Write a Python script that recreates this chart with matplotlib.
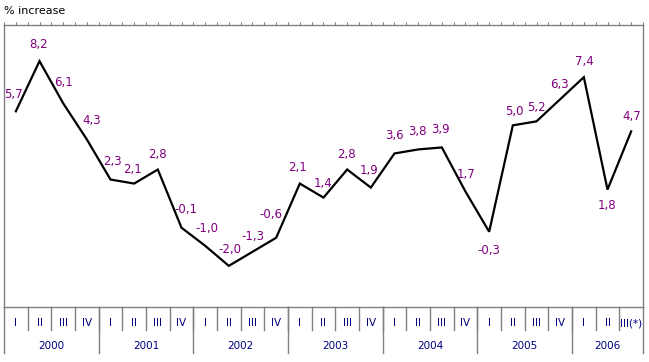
import numpy as np
import matplotlib.pyplot as plt
import matplotlib.transforms as mtransforms

# quarterly % increase, 2000 I .. 2006 III
quarters = ["I", "II", "III", "IV"] * 6 + ["I", "II", "III(*)"]
years = ["2000", "2001", "2002", "2003", "2004", "2005", "2006"]
quarters_per_year = [4, 4, 4, 4, 4, 4, 3]
values = [5.7, 8.2, 6.1, 4.3, 2.3, 2.1, 2.8, -0.1, -1.0, -2.0, -1.3, -0.6,
          2.1, 1.4, 2.8, 1.9, 3.6, 3.8, 3.9, 1.7, -0.3, 5.0, 5.2, 6.3,
          7.4, 1.8, 4.7]

# label offsets (pixels) relative to each point
lab_dx = [-2, -1, 0, 5, 2, -2, 0, 4, 2, 1, 0, -5, -2, 0, -1, -2, 0, -1, -1, 1, 0, 2, 0, -1, 1, -1, 1]
lab_dy = [17, 17, 21, 19, 18, 14, 15, 18, 17, 16, 15, 23, 16, 14, 15, 17, 18, 18, 18, 17, -19, 14, 14, 15, 16, -16, 15]

W, H = 649, 362
fig = plt.figure(figsize=(W / 100, H / 100), dpi=100)
left, right, top, bottom = 4, 643, 25, 307
ax = fig.add_axes([left / W, 1 - bottom / H, (right - left) / W, (bottom - top) / H])

gray = "#808080"
purple = "#800080"
navy = "#000080"

x = np.arange(len(values))
ax.plot(x, values, color="black", lw=1.6, solid_joinstyle="miter")

for i, v in enumerate(values):
    txt = ("%.1f" % v).replace(".", ",")
    ax.annotate(txt, (x[i], v), xytext=(lab_dx[i] * 0.72, lab_dy[i] * 0.72),
                textcoords="offset points", ha="center", va="center",
                color=purple, fontsize=8.5)

ax.set_xlim(-0.5, len(values) - 0.5)
ax.set_ylim(-4.05, 10.0)
ax.set_yticks([])
for s in ax.spines.values():
    s.set_color(gray)
    s.set_linewidth(1)

ax.xaxis.tick_top()
ax.set_xticks(np.arange(-0.5, len(values), 0.5))
ax.tick_params(axis="x", direction="out", length=2.3, width=0.8, color=gray,
               labeltop=False, labelbottom=False)

# category table below the plot
trans = mtransforms.blended_transform_factory(ax.transData, ax.transAxes)
ph = bottom - top
y_row1 = -(330 - bottom) / ph
y_row2 = -(353 - bottom) / ph
for i, q in enumerate(quarters):
    ax.text(x[i], -(323 - bottom) / ph, q, transform=trans, ha="center", va="center",
            color=navy, fontsize=7.5)
for b in range(1, len(values)):
    ax.plot([b - 0.5, b - 0.5], [0, y_row1], transform=trans, color=gray, lw=1, clip_on=False)

start = 0
ax.plot([-0.5, -0.5], [0, y_row2], transform=trans, color=gray, lw=1, clip_on=False)
for yr, n in zip(years, quarters_per_year):
    ax.text(start + (n - 1) / 2, -(346 - bottom) / ph, yr, transform=trans,
            ha="center", va="center", color=navy, fontsize=7.5)
    start += n
    ax.plot([start - 0.5, start - 0.5], [0, y_row2], transform=trans, color=gray, lw=1, clip_on=False)

fig.text(4 / W, 1 - 11 / H, "% increase", ha="left", va="center", fontsize=8, color="black")

fig.savefig("out.png", dpi=100)
